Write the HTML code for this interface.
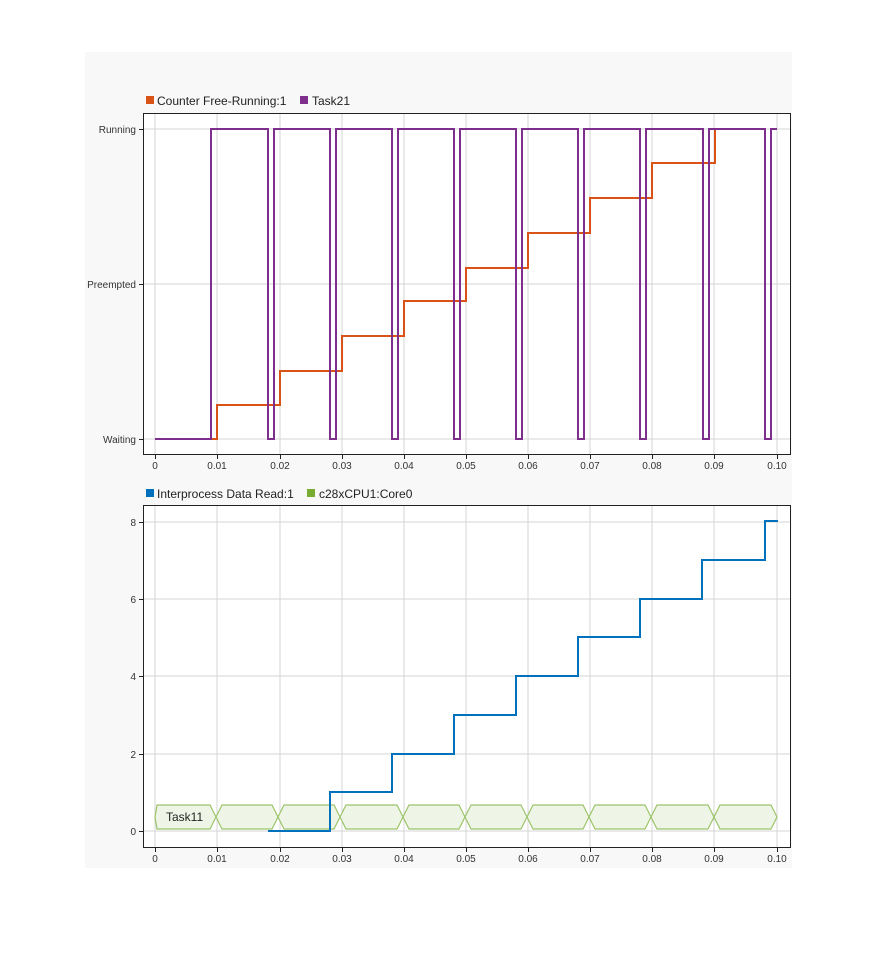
<!DOCTYPE html>
<html><head><meta charset="utf-8"><style>
body{margin:0;background:#fff;}
svg{display:block;font-family:"Liberation Sans",Arial,sans-serif;}
</style></head><body>
<svg width="878" height="956" xmlns="http://www.w3.org/2000/svg">
<rect x="85" y="52" width="707" height="816" fill="#f8f8f8"/>
<!-- TOP PLOT -->
<rect x="143.5" y="113.5" width="647" height="341" fill="#fff" stroke="#222" stroke-width="1"/>
<g stroke="#d4d4d4" stroke-width="1">
<line x1="155" y1="114" x2="155" y2="454"/><line x1="217" y1="114" x2="217" y2="454"/><line x1="280" y1="114" x2="280" y2="454"/><line x1="342" y1="114" x2="342" y2="454"/><line x1="404" y1="114" x2="404" y2="454"/><line x1="466" y1="114" x2="466" y2="454"/><line x1="528" y1="114" x2="528" y2="454"/><line x1="590" y1="114" x2="590" y2="454"/><line x1="652" y1="114" x2="652" y2="454"/><line x1="714" y1="114" x2="714" y2="454"/><line x1="777" y1="114" x2="777" y2="454"/>
<line x1="144" y1="129" x2="790" y2="129"/><line x1="144" y1="284" x2="790" y2="284"/><line x1="144" y1="439" x2="790" y2="439"/>
</g>
<g stroke="#222"><line x1="139" y1="129.5" x2="143" y2="129.5"/><line x1="139" y1="284.5" x2="143" y2="284.5"/><line x1="139" y1="439.5" x2="143" y2="439.5"/>
<line x1="155.5" y1="455" x2="155.5" y2="459"/><line x1="217.5" y1="455" x2="217.5" y2="459"/><line x1="280.5" y1="455" x2="280.5" y2="459"/><line x1="342.5" y1="455" x2="342.5" y2="459"/><line x1="404.5" y1="455" x2="404.5" y2="459"/><line x1="466.5" y1="455" x2="466.5" y2="459"/><line x1="528.5" y1="455" x2="528.5" y2="459"/><line x1="590.5" y1="455" x2="590.5" y2="459"/><line x1="652.5" y1="455" x2="652.5" y2="459"/><line x1="714.5" y1="455" x2="714.5" y2="459"/><line x1="777.5" y1="455" x2="777.5" y2="459"/></g>
<g font-size="10" fill="#333" text-anchor="end"><text x="136" y="133">Running</text><text x="136" y="288">Preempted</text><text x="136" y="443">Waiting</text></g>
<g font-size="10" fill="#333" text-anchor="middle"><text x="155" y="469">0</text><text x="217" y="469">0.01</text><text x="280" y="469">0.02</text><text x="342" y="469">0.03</text><text x="404" y="469">0.04</text><text x="466" y="469">0.05</text><text x="528" y="469">0.06</text><text x="590" y="469">0.07</text><text x="652" y="469">0.08</text><text x="714" y="469">0.09</text><text x="777" y="469">0.10</text></g>
<path d="M155,439 H217 V405 H280 V371 H342 V336 H404 V301 H466 V268 H528 V233 H590 V198 H652 V163 H715 V129" fill="none" stroke="#d95319" stroke-width="2"/>
<path d="M155,439 H211 V129 H268 V439 H274 V129 H330 V439 H336 V129 H392 V439 H398 V129 H454 V439 H460 V129 H516 V439 H522 V129 H578 V439 H584 V129 H640 V439 H646 V129 H703 V439 H709 V129 H765 V439 H771 V129 H777" fill="none" stroke="#7e2f8e" stroke-width="2"/>
<rect x="146" y="96" width="8" height="8" fill="#d95319"/><text x="157" y="105" font-size="12" fill="#222">Counter Free-Running:1</text>
<rect x="300" y="96" width="8" height="8" fill="#7e2f8e"/><text x="312" y="105" font-size="12" fill="#222">Task21</text>
<!-- BOTTOM PLOT -->
<rect x="143.5" y="505.5" width="647" height="342" fill="#fff" stroke="#222" stroke-width="1"/>
<g stroke="#d4d4d4" stroke-width="1">
<line x1="155" y1="506" x2="155" y2="847"/><line x1="217" y1="506" x2="217" y2="847"/><line x1="280" y1="506" x2="280" y2="847"/><line x1="342" y1="506" x2="342" y2="847"/><line x1="404" y1="506" x2="404" y2="847"/><line x1="466" y1="506" x2="466" y2="847"/><line x1="528" y1="506" x2="528" y2="847"/><line x1="590" y1="506" x2="590" y2="847"/><line x1="652" y1="506" x2="652" y2="847"/><line x1="714" y1="506" x2="714" y2="847"/><line x1="777" y1="506" x2="777" y2="847"/>
<line x1="144" y1="522" x2="790" y2="522"/><line x1="144" y1="599" x2="790" y2="599"/><line x1="144" y1="676" x2="790" y2="676"/><line x1="144" y1="754" x2="790" y2="754"/><line x1="144" y1="831" x2="790" y2="831"/>
</g>
<g stroke="#222"><line x1="139" y1="522.5" x2="143" y2="522.5"/><line x1="139" y1="599.5" x2="143" y2="599.5"/><line x1="139" y1="676.5" x2="143" y2="676.5"/><line x1="139" y1="754.5" x2="143" y2="754.5"/><line x1="139" y1="831.5" x2="143" y2="831.5"/>
<line x1="155.5" y1="848" x2="155.5" y2="852"/><line x1="217.5" y1="848" x2="217.5" y2="852"/><line x1="280.5" y1="848" x2="280.5" y2="852"/><line x1="342.5" y1="848" x2="342.5" y2="852"/><line x1="404.5" y1="848" x2="404.5" y2="852"/><line x1="466.5" y1="848" x2="466.5" y2="852"/><line x1="528.5" y1="848" x2="528.5" y2="852"/><line x1="590.5" y1="848" x2="590.5" y2="852"/><line x1="652.5" y1="848" x2="652.5" y2="852"/><line x1="714.5" y1="848" x2="714.5" y2="852"/><line x1="777.5" y1="848" x2="777.5" y2="852"/></g>
<g font-size="10" fill="#333" text-anchor="end"><text x="136" y="526">8</text><text x="136" y="603">6</text><text x="136" y="680">4</text><text x="136" y="758">2</text><text x="136" y="835">0</text></g>
<g font-size="10" fill="#333" text-anchor="middle"><text x="155" y="862">0</text><text x="217" y="862">0.01</text><text x="280" y="862">0.02</text><text x="342" y="862">0.03</text><text x="404" y="862">0.04</text><text x="466" y="862">0.05</text><text x="528" y="862">0.06</text><text x="590" y="862">0.07</text><text x="652" y="862">0.08</text><text x="714" y="862">0.09</text><text x="777" y="862">0.10</text></g>
<g fill="#eef5e6" stroke="#9cc46a" stroke-width="1.2">
<polygon points="155,817 157,805 210,805 216,817 210,829 157,829"/>
<polygon points="216,817 222,805 272,805 278,817 272,829 222,829"/>
<polygon points="278,817 284,805 334,805 340,817 334,829 284,829"/>
<polygon points="340,817 346,805 397,805 403,817 397,829 346,829"/>
<polygon points="403,817 409,805 459,805 465,817 459,829 409,829"/>
<polygon points="465,817 471,805 521,805 527,817 521,829 471,829"/>
<polygon points="527,817 533,805 583,805 589,817 583,829 533,829"/>
<polygon points="589,817 595,805 645,805 651,817 645,829 595,829"/>
<polygon points="651,817 657,805 708,805 714,817 708,829 657,829"/>
<polygon points="714,817 720,805 771,805 777,817 771,829 720,829"/>
</g>
<text x="166" y="821" font-size="12" fill="#222">Task11</text>
<path d="M268,831 H330 V792 H392 V754 H454 V715 H516 V676 H578 V637 H640 V599 H702 V560 H765 V521 H778" fill="none" stroke="#0072bd" stroke-width="2"/>
<rect x="146" y="489" width="8" height="8" fill="#0072bd"/><text x="157" y="498" font-size="12" fill="#222">Interprocess Data Read:1</text>
<rect x="307" y="489" width="8" height="8" fill="#77ac30"/><text x="319" y="498" font-size="12" fill="#222">c28xCPU1:Core0</text>
</svg>
</body></html>
